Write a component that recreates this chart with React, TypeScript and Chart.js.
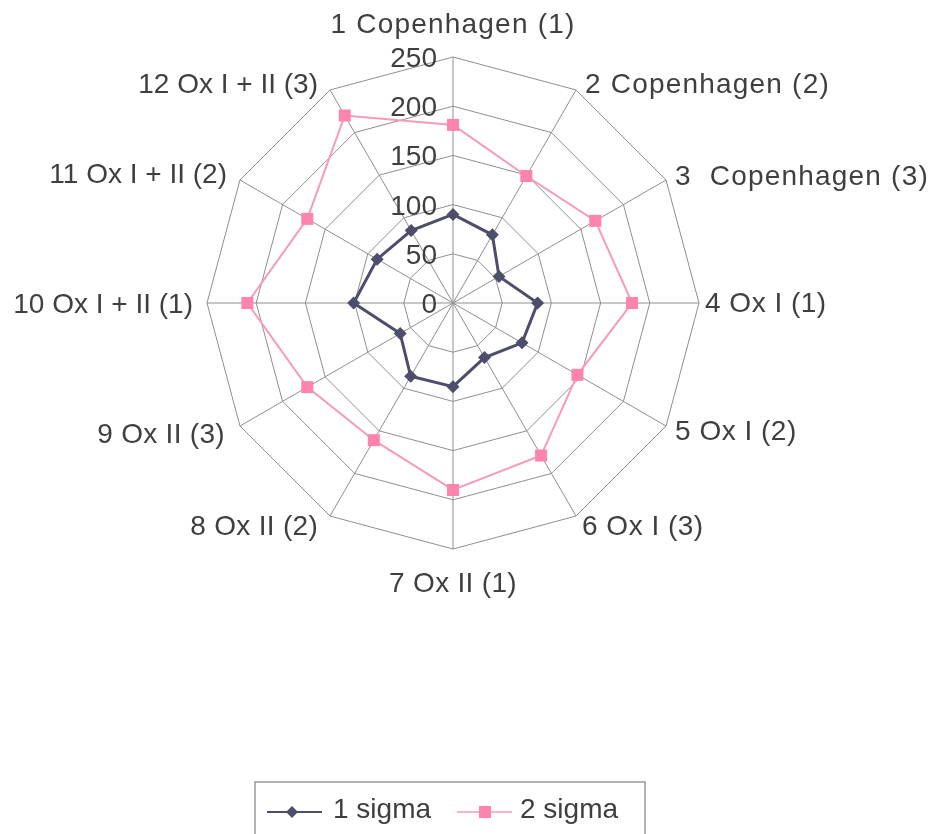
import React, { useEffect, useRef } from 'react';
import { Chart, registerables } from 'chart.js';

Chart.register(...registerables);

const categories = [
  '1 Copenhagen (1)',
  '2 Copenhagen (2)',
  '3  Copenhagen (3)',
  '4 Ox I (1)',
  '5 Ox I (2)',
  '6 Ox I (3)',
  '7 Ox II (1)',
  '8 Ox II (2)',
  '9 Ox II (3)',
  '10 Ox I + II (1)',
  '11 Ox I + II (2)',
  '12 Ox I + II (3)',
];
const sigma1 = [90, 80, 54, 86, 81, 64, 85, 86, 62, 101, 89, 85];
const sigma2 = [181, 149, 167, 182, 146, 179, 190, 161, 171, 209, 171, 220];
const tickValues = [0, 50, 100, 150, 200, 250];
const seriesNames = ['1 sigma', '2 sigma'];

const FONT = '28px "Liberation Sans", Arial, sans-serif';
const TEXT = '#3f3f3f';
const C1 = '#4e4e6c';
const C2 = '#ff84ad';
const C2_LINE = '#f79ab9';

// label placement relative to outer vertex: [dx, dy(baseline), align, letterSpacing]
const labelPlace: [number, number, CanvasTextAlign, number][] = [
  [0, -24, 'center', 1.2],
  [9, 3, 'left', 1.2],
  [9, 5, 'left', 1.2],
  [6, 9, 'left', 0.5],
  [9, 14, 'left', 0.5],
  [6, 19, 'left', 0.5],
  [0, 43, 'center', 0.3],
  [-12, 19, 'right', 0.3],
  [-15, 17, 'right', 0.3],
  [-14, 10, 'right', 0],
  [-13, 3, 'right', 0],
  [-12, 3, 'right', 0],
];

const drawMarker = (ctx: CanvasRenderingContext2D, style: string, x: number, y: number, r: number, color: string) => {
  ctx.save();
  ctx.fillStyle = color;
  ctx.beginPath();
  if (style === 'rectRot') {
    ctx.moveTo(x, y - r);
    ctx.lineTo(x + r, y);
    ctx.lineTo(x, y + r);
    ctx.lineTo(x - r, y);
  } else {
    const h = r * Math.SQRT1_2;
    ctx.rect(x - h, y - h, 2 * h, 2 * h);
  }
  ctx.closePath();
  ctx.fill();
  ctx.restore();
};

const decorPlugin = {
  id: 'decor',
  beforeDatasetsDraw(chart: any) {
    const scale = chart.scales.r;
    const ctx: CanvasRenderingContext2D = chart.ctx;
    ctx.save();
    ctx.font = FONT;
    ctx.fillStyle = TEXT;
    ctx.textAlign = 'right';
    ctx.textBaseline = 'alphabetic';
    tickValues.forEach((v) => {
      const d = scale.getDistanceFromCenterForValue(v);
      ctx.fillText(String(v), scale.xCenter - 16, scale.yCenter - d + 10);
    });
    ctx.restore();
  },
  afterDraw(chart: any) {
    const scale = chart.scales.r;
    const ctx: CanvasRenderingContext2D = chart.ctx;
    ctx.save();
    ctx.font = FONT;
    ctx.fillStyle = TEXT;
    ctx.textBaseline = 'alphabetic';
    categories.forEach((lab, i) => {
      const p = scale.getPointPosition(i, scale.drawingArea);
      const [dx, dy, al, ls] = labelPlace[i];
      ctx.textAlign = al;
      (ctx as any).letterSpacing = ls + 'px';
      ctx.fillText(lab, p.x + dx, p.y + dy);
    });
    (ctx as any).letterSpacing = '0px';

    // legend
    const boxL = 255, boxR = 645, boxT = 782;
    ctx.strokeStyle = '#9a9a9a';
    ctx.lineWidth = 1.5;
    ctx.strokeRect(boxL, boxT, boxR - boxL, 80);
    const ly = 812;
    const items = [
      { x0: 267, x1: 322, mx: 292, tx: 333, color: C1, line: C1, style: 'rectRot', r: 6, lw: 2 },
      { x0: 457, x1: 512, mx: 485, tx: 520, color: C2, line: C2_LINE, style: 'rect', r: 8.5, lw: 1.5 },
    ];
    items.forEach((it, i) => {
      ctx.strokeStyle = it.line;
      ctx.lineWidth = it.lw;
      ctx.beginPath();
      ctx.moveTo(it.x0, ly);
      ctx.lineTo(it.x1, ly);
      ctx.stroke();
      drawMarker(ctx, it.style, it.mx, ly, it.r, it.color);
      ctx.fillStyle = TEXT;
      ctx.textAlign = 'left';
      ctx.fillText(seriesNames[i], it.tx, 818);
    });
    ctx.restore();
  },
};

export default function App() {
  const ref = useRef<HTMLCanvasElement | null>(null);
  useEffect(() => {
    if (!ref.current) return;
    const chart = new Chart(ref.current, {
      type: 'radar',
      data: {
        labels: categories,
        datasets: [
          {
            label: seriesNames[0],
            data: sigma1,
            borderColor: C1,
            backgroundColor: C1,
            borderWidth: 3,
            pointStyle: 'rectRot',
            pointRadius: 6.5,
            pointBackgroundColor: C1,
            pointBorderColor: C1,
            pointBorderWidth: 0,
            fill: false,
          },
          {
            label: seriesNames[1],
            data: sigma2,
            borderColor: C2_LINE,
            backgroundColor: C2,
            borderWidth: 2,
            pointStyle: 'rect',
            pointRadius: 8.5,
            pointBackgroundColor: C2,
            pointBorderColor: C2,
            pointBorderWidth: 0,
            fill: false,
          },
        ],
      },
      options: {
        responsive: false,
        animation: false,
        layout: { padding: { left: 207, right: 236, top: 57, bottom: 285 } },
        plugins: { legend: { display: false }, tooltip: { enabled: false } },
        elements: { line: { tension: 0 } },
        scales: {
          r: {
            min: 0,
            max: 250,
            ticks: { stepSize: 50, display: false },
            grid: { color: '#8f8f8f', lineWidth: 1 },
            angleLines: { color: '#8f8f8f', lineWidth: 1 },
            pointLabels: { display: false },
          },
        },
      },
      plugins: [decorPlugin],
    });
    return () => chart.destroy();
  }, []);
  return (
    <div style={{ position: 'fixed', left: 0, top: 0, width: 935, height: 834, background: '#fff' }}>
      <canvas ref={ref} width={935} height={834} style={{ display: 'block' }} />
    </div>
  );
}
